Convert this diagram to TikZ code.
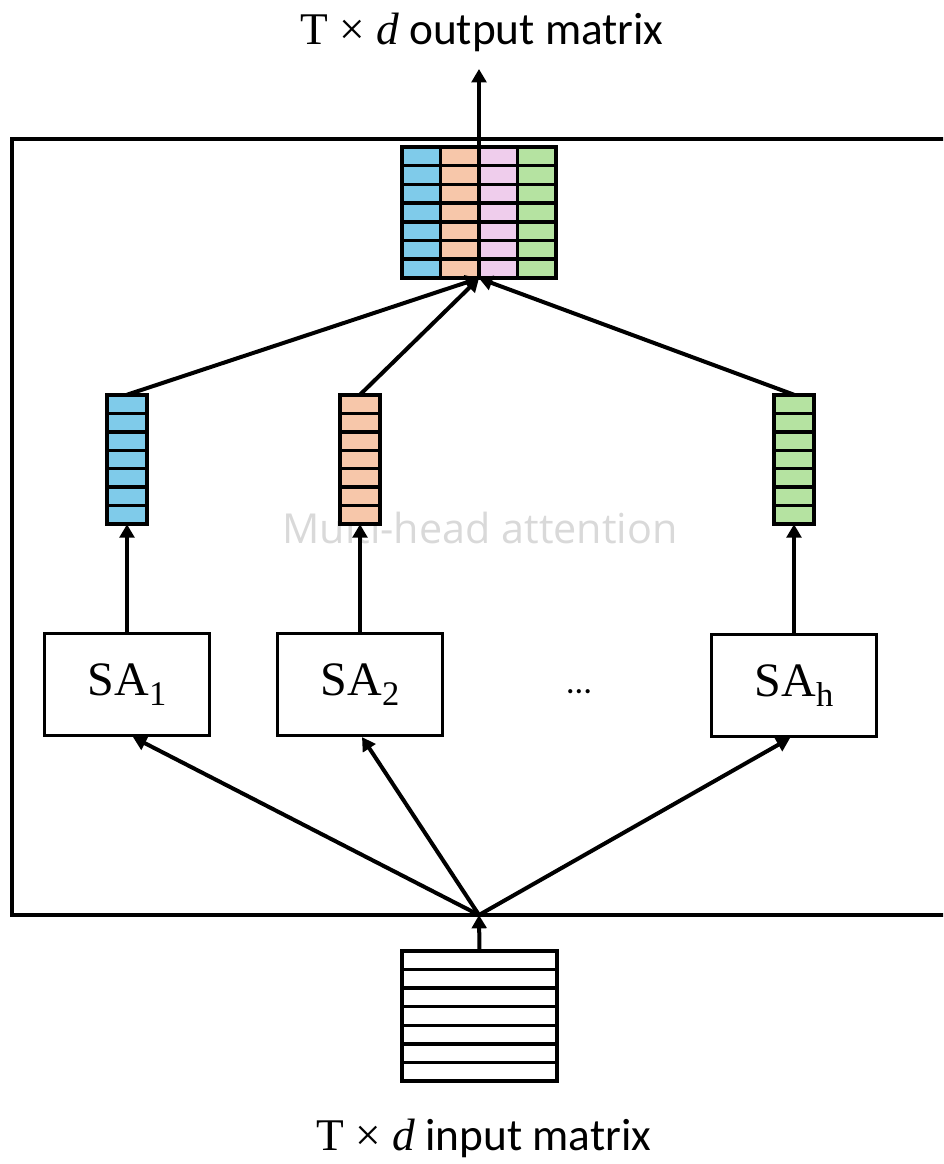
\documentclass[tikz,border=0pt]{standalone}
\usepackage{fontspec}
\setmainfont{Carlito}
\newfontfamily\faintfont{Open Sans}
\newfontfamily\serifrm{Liberation Serif}
\usetikzlibrary{arrows.meta}

\definecolor{headblue}{HTML}{7FCBEA}
\definecolor{headorange}{HTML}{F7C7AA}
\definecolor{headpink}{HTML}{EFCDEC}
\definecolor{headgreen}{HTML}{B5E3A1}
\definecolor{faintgray}{HTML}{D9D9D9}

% lowered index for the head names
\newcommand{\lowidx}[1]{\raisebox{-0.2em}{\scalebox{0.72}{#1}}}
% "T x d" part of the captions
\newcommand{\tdpart}{{\serifrm T × \itshape d}}

\tikzset{
  cell/.style={draw=black, line width=2.6pt},
  sabox/.style={draw, line width=2.4pt, fill=white, minimum width=123.75pt,
    minimum height=76.5pt, inner sep=0pt, font=\serifrm\fontsize{36}{41}\selectfont},
  flow/.style={line width=3pt, -{Triangle[length=10pt,width=11pt]}},
  caption/.style={font=\fontsize{34}{39}\selectfont},
}

\begin{document}
\begin{tikzpicture}[x=0.75pt, y=-0.75pt]
  % page, same size as the reference (the frame runs off the right side)
  \clip (0,0) rectangle (943,1164);

  % block frame
  \draw[line width=3pt] (960,139) -- (12,139) -- (12,915) -- (960,915);

  % faint block label, sits behind the head vectors
  \node[text=faintgray, font=\faintfont\fontsize{31}{36}\selectfont] (mhlabel)
    at (480,528) {Multi-head attention};

  % --- output matrix: 4 heads side by side ---
  \foreach \c/\col in {0/headblue, 1/headorange, 2/headpink, 3/headgreen}
    \foreach \r in {0,...,6}
      \draw[cell, fill=\col] ({402+38.5*\c},{147+18.7*\r}) rectangle ++(38.5,18.7);
  \node[inner sep=0pt, minimum width=115.5pt, minimum height=98.25pt] (outmat) at (479,212.5) {};

  % --- one vector per head ---
  \foreach \x/\col/\nm in {107/headblue/head1, 340/headorange/head2, 774/headgreen/headh} {
    \foreach \r in {0,...,6}
      \draw[cell, fill=\col] (\x,{395+18.43*\r}) rectangle ++(40,18.43);
    \node[inner sep=0pt, minimum width=30pt, minimum height=96.75pt] (\nm) at ({\x+20},459.5) {};
  }

  % --- input matrix ---
  \foreach \r in {0,...,6}
    \draw[cell, fill=white] (402,{951+18.57*\r}) rectangle ++(155,18.57);
  \node[inner sep=0pt, minimum width=116.25pt, minimum height=97.5pt] (inmat) at (479.5,1016) {};

  % self-attention heads
  \node[sabox] (sa1) at (127,684.5) {SA\lowidx{1}};
  \node[sabox] (sa2) at (360,684.5) {SA\lowidx{2}};
  \node[sabox] (sah) at (794,685.5) {SA\lowidx{h}};
  \node[font=\fontsize{26}{31}\selectfont] (dots) at (579,692) {\ldots};

  % captions
  \node[caption] (outcap) at (482,32) {\tdpart{} output matrix};
  \node[caption] (incap) at (484,1138) {\tdpart{} input matrix};

  % connectors
  \coordinate (split) at (479,915);
  \coordinate (outtip) at (479,69);
  \draw[flow] (inmat.north) -- (split);
  \draw[flow] (split) -- ([xshift=4.5pt]sa1.south);
  \draw[flow] (split) -- ([xshift=1.5pt]sa2.south);
  \draw[flow] (split) -- ([xshift=-3pt]sah.south);
  \draw[flow] (sa1.north) -- (head1.south);
  \draw[flow] (sa2.north) -- (head2.south);
  \draw[flow] (sah.north) -- (headh.south);
  \draw[flow] (head1.north) -- (outmat.south);
  \draw[flow] (head2.north) -- (outmat.south);
  \draw[flow] (headh.north) -- (outmat.south);
  \draw[flow] (outmat.north) -- (outtip);
\end{tikzpicture}
\end{document}
